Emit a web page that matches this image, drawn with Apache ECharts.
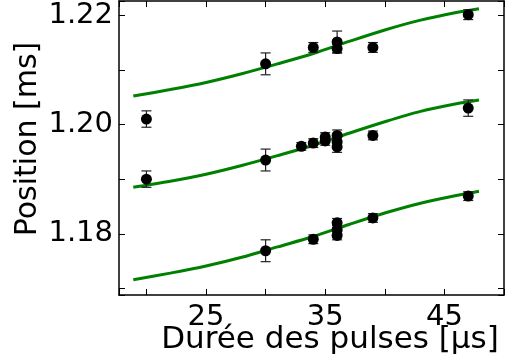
<!DOCTYPE html>
<html>
<head>
<meta charset="utf-8">
<script src="https://cdn.jsdelivr.net/npm/echarts@6/dist/echarts.min.js"></script>
<style>
html,body{margin:0;padding:0;background:#fff;}
#chart{width:508px;height:363px;}
</style>
</head>
<body>
<div id="chart"></div>
<script>
// Measured points (x in µs, position in ms, error bar half-height in ms)
var pointX   = [20,     30,     34,     36,     36,     39,     47,
                20,     30,     33,     34,     35,     35,     36,     36,     36,     39,     47,
                30,     34,     36,     36,     36,     39,     47];
var pointY   = [1.2010, 1.2111, 1.2141, 1.2151, 1.2139, 1.2141, 1.2201,
                1.1900, 1.1935, 1.1960, 1.1966, 1.1977, 1.1970, 1.1980, 1.1968, 1.1959, 1.1980, 1.2030,
                1.1769, 1.1790, 1.1820, 1.1807, 1.1797, 1.1829, 1.1869];
var pointErr = [0.0015, 0.0020, 0.0009, 0.0020, 0.0008, 0.0009, 0.0009,
                0.0015, 0.0020, 0.0007, 0.0008, 0.0008, 0.0008, 0.0010, 0.0008, 0.0010, 0.0008, 0.0015,
                0.0020, 0.0008, 0.0008, 0.0008, 0.0008, 0.0008, 0.0008];

// Fit curves
var fitX   = [18.9,   22,     25,     28,     31,     34,     37,     40,     43,     46,     47.9];
var fitTop = [1.2052, 1.2064, 1.2077, 1.2093, 1.2111, 1.2130, 1.2152, 1.2173, 1.2191, 1.2205, 1.2212];
var fitMid = [1.1885, 1.1896, 1.1909, 1.1925, 1.1943, 1.1962, 1.1984, 1.2005, 1.2024, 1.2038, 1.2045];
var fitBot = [1.1716, 1.1728, 1.1741, 1.1757, 1.1776, 1.1795, 1.1817, 1.1838, 1.1856, 1.1870, 1.1878];

// Tick labels
var xTickLabels = ['25', '35', '45'];
var yTickLabels = ['1.18', '1.20', '1.22'];

var xTitle = 'Durée des pulses [µs]';
var yTitle = 'Position [ms]';

function zip(a, b) { return a.map(function (v, i) { return [v, b[i]]; }); }
var pts = pointX.map(function (x, i) { return [x, pointY[i], pointErr[i]]; });

var FONT = 'DejaVu Sans';
var XMIN = 17.7, XMAX = 50, YMIN = 1.1688, YMAX = 1.2226;

function xFmt(v) { var s = String(Math.round(v)); return (Math.abs(v - Math.round(v)) < 1e-6 && xTickLabels.indexOf(s) >= 0) ? s : ''; }
function yFmt(v) { var s = v.toFixed(2); return (Math.abs(v * 100 - Math.round(v * 100)) < 1e-6 && yTickLabels.indexOf(s) >= 0) ? s : ''; }

var axisLine = { show: true, lineStyle: { color: '#000', width: 1.5 } };
var axisTick = { show: true, inside: true, length: 6, lineStyle: { color: '#000', width: 1 } };
var curveStyle = { color: '#008000', width: 3 };

var chart = echarts.init(document.getElementById('chart'), null, { renderer: 'canvas' });
chart.setOption({
  animation: false,
  backgroundColor: '#fff',
  grid: { left: 119, top: 1, right: 4, bottom: 68, containLabel: false, outerBoundsMode: 'none' },
  xAxis: [{
    type: 'value', position: 'bottom', min: XMIN, max: XMAX, splitNumber: 6, minInterval: 5, maxInterval: 5,
    axisLine: axisLine, axisTick: axisTick, splitLine: { show: false },
    axisLabel: { formatter: xFmt, fontFamily: FONT, fontSize: 29, color: '#000', margin: 8, showMinLabel: true, showMaxLabel: true },
    name: xTitle, nameLocation: 'middle', nameGap: 29, nameMoveOverlap: false,
    nameTextStyle: { fontFamily: FONT, fontSize: 31, color: '#000', padding: [0, 0, 0, 37] }
  }, {
    type: 'value', position: 'top', min: XMIN, max: XMAX, splitNumber: 6, minInterval: 5, maxInterval: 5,
    axisLine: axisLine, axisTick: axisTick, splitLine: { show: false }, axisLabel: { show: false }
  }],
  yAxis: [{
    type: 'value', position: 'left', min: YMIN, max: YMAX, splitNumber: 5, minInterval: 0.01, maxInterval: 0.01,
    axisLine: axisLine, axisTick: axisTick, splitLine: { show: false },
    axisLabel: { formatter: yFmt, fontFamily: FONT, fontSize: 29, color: '#000', margin: 6 },
    name: yTitle, nameLocation: 'middle', nameGap: 76, nameRotate: 90, nameMoveOverlap: false,
    nameTextStyle: { fontFamily: FONT, fontSize: 30, color: '#000', padding: [0, 0, 0, 18] }
  }, {
    type: 'value', position: 'right', min: YMIN, max: YMAX, splitNumber: 5, minInterval: 0.01, maxInterval: 0.01,
    axisLine: axisLine, axisTick: axisTick, splitLine: { show: false }, axisLabel: { show: false }
  }],
  series: [
    { type: 'line', data: zip(fitX, fitTop), smooth: 0.3, showSymbol: false, lineStyle: curveStyle, z: 2 },
    { type: 'line', data: zip(fitX, fitMid), smooth: 0.3, showSymbol: false, lineStyle: curveStyle, z: 2 },
    { type: 'line', data: zip(fitX, fitBot), smooth: 0.3, showSymbol: false, lineStyle: curveStyle, z: 2 },
    {
      type: 'custom', data: pts, z: 3,
      renderItem: function (params, api) {
        var x = api.value(0), y = api.value(1), e = api.value(2);
        var t = api.coord([x, y + e]), b = api.coord([x, y - e]);
        var hw = 5, st = { stroke: '#222', lineWidth: 1.2 };
        return { type: 'group', children: [
          { type: 'line', shape: { x1: t[0], y1: t[1], x2: b[0], y2: b[1] }, style: st },
          { type: 'line', shape: { x1: t[0] - hw, y1: t[1], x2: t[0] + hw, y2: t[1] }, style: st },
          { type: 'line', shape: { x1: b[0] - hw, y1: b[1], x2: b[0] + hw, y2: b[1] }, style: st }
        ] };
      }
    },
    { type: 'scatter', data: pts.map(function (p) { return [p[0], p[1]]; }), symbol: 'circle', symbolSize: 11,
      itemStyle: { color: '#000', opacity: 1 }, z: 4 }
  ]
});
</script>
</body>
</html>
